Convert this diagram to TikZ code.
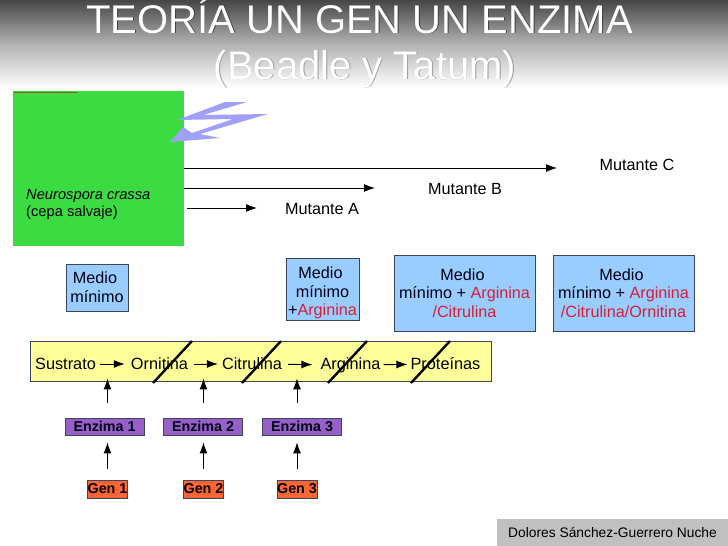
\documentclass[tikz,border=0pt]{standalone}
\usepackage{fontspec}
\setmainfont{Liberation Sans}
\usepackage{xcolor}
\definecolor{CultivoGreen}{RGB}{58,220,66}
\definecolor{RayoViolet}{RGB}{160,160,250}
\definecolor{MedioBlue}{RGB}{153,204,255}
\definecolor{RutaYellow}{RGB}{255,255,153}
\definecolor{EnzimaPurple}{RGB}{150,96,200}
\definecolor{GenOrange}{RGB}{255,102,51}
\definecolor{SlateEdge}{RGB}{60,70,90}
\definecolor{AminoRed}{RGB}{215,30,50}
\definecolor{PieGray}{RGB}{192,192,192}
\definecolor{BandaGray}{RGB}{70,70,70}
\definecolor{CepaBrown}{RGB}{150,90,10}
\usetikzlibrary{arrows.meta}
\begin{document}
\begin{tikzpicture}[
    x=1pt, y=-1pt,
    titulo/.style={
        font=\fontsize{40}{47}\selectfont, text=white,
        anchor=base, inner sep=0pt
    },
    medio/.style={
        draw=SlateEdge, fill=MedioBlue, thick,
        font=\fontsize{16.2}{18.7}\selectfont,
        align=center, inner sep=0pt, text=black!92!blue
    },
    enzima/.style={
        draw=SlateEdge, fill=EnzimaPurple, thick,
        minimum width=79pt, minimum height=17pt, inner sep=0pt,
        font=\fontsize{14.3}{16}\selectfont\bfseries, text=black!92!blue
    },
    gen/.style={
        draw=SlateEdge, fill=GenOrange, thick,
        minimum width=40pt, minimum height=18pt, inner sep=0pt,
        font=\fontsize{14.3}{16}\selectfont\bfseries
    },
    etapa/.style={
        font=\fontsize{16.3}{18}\selectfont, inner sep=3pt
    },
    mutante/.style={
        font=\fontsize{16.2}{18}\selectfont, inner sep=0pt
    },
    flecha/.style={
        -{Latex[length=11pt,width=8pt]}, line width=0.9pt, draw=black
    },
    corte/.style={
        line width=2.4pt, draw=black
    }
]

% ====== FONDO Y TITULO ======
\useasboundingbox (0,0) rectangle (728,546);
\shade[top color=BandaGray, bottom color=white, middle color=black!30] (0,0) rectangle (728,88);
\node[titulo, text=black!75] (sombra1) at (360.2,33.7) {TEORÍA UN GEN UN ENZIMA};
\node[titulo, text=black!40] (sombra2) at (365.7,79.7) {(Beadle y Tatum)};
\node[titulo] (titulo1) at (359.5,33) {TEORÍA UN GEN UN ENZIMA};
\node[titulo] (titulo2) at (365,79) {(Beadle y Tatum)};

% ====== CULTIVO ======
\node[fill=CultivoGreen, minimum width=171pt, minimum height=155pt, inner sep=0pt] (cepa) at (98.5,168.5) {};
\draw[CepaBrown, line width=1pt] (14,92) -- (78,92);
\fill[RayoViolet] (247,102) -- (225,102) -- (177,120) -- (233,119) -- (192,133) -- (183,127) -- (170,142)
    -- (220,138) -- (200,134) -- (268,114) -- (203,115) -- cycle;
\node[align=left, inner sep=0pt, font=\fontsize{14.7}{17}\selectfont, anchor=west] (cepatxt) at (26,204.5)
    {\textit{Neurospora crassa}\\(cepa salvaje)};

% ====== MUTANTES ======
\node[mutante] (mutC) at (637,165) {Mutante C};
\node[mutante] (mutB) at (465,189) {Mutante B};
\node[mutante] (mutA) at (322,209) {Mutante A};
\coordinate (finC) at (557,168);
\coordinate (finB) at (375,188);
\coordinate (finA) at (257,208);
\draw[flecha] (cepa.east |- finC) -- (finC);
\draw[flecha] (cepa.east |- finB) -- (finB);
\draw[flecha] (cepa.east |- finA) ++(3,0) -- (finA);

% ====== MEDIOS ======
\node[medio, minimum width=62pt, minimum height=47pt] (medio1) at (97,287.5) {\hspace*{-4pt}Medio\\mínimo};
\node[medio, minimum width=73pt, minimum height=62pt] (medio2) at (322.5,289) {\rule{0pt}{19.6pt}\hspace*{-4pt}Medio\\mínimo\\+\textcolor{AminoRed}{Arginina}};
\node[medio, minimum width=141pt, minimum height=76pt] (medio3) at (464.5,293) {\hspace*{-4pt}Medio\\mínimo + \textcolor{AminoRed}{Arginina}\\\textcolor{AminoRed}{/Citrulina}};
\node[medio, minimum width=141pt, minimum height=76pt] (medio4) at (623.5,293) {\hspace*{-4pt}Medio\\mínimo + \textcolor{AminoRed}{Arginina}\\\textcolor{AminoRed}{/Citrulina/Ornitina}};

% ====== RUTA ======
\node[draw=SlateEdge, thick, fill=RutaYellow, minimum width=461pt, minimum height=40pt, inner sep=0pt] (ruta) at (260.5,361) {};
\node[etapa] (sustrato) at (65.5,364) {Sustrato};
\node[etapa] (ornitina) at (159.5,364) {Ornitina};
\node[etapa] (citrulina) at (252,364) {Citrulina};
\node[etapa] (arginina) at (350.5,365) {Arginina};
\node[etapa] (proteinas) at (445.5,364) {Proteínas};
\draw[flecha, shorten <=1pt, shorten >=3pt] (sustrato) -- (ornitina);
\draw[flecha, shorten <=3pt, shorten >=1pt] (ornitina) -- (citrulina);
\draw[flecha, shorten <=3pt, shorten >=5pt] (citrulina) -- (arginina);
\draw[flecha] (arginina) -- (proteinas);
\foreach \x in {153,242,328,411}
    \draw[corte] (\x,383) -- ++(39,-42);

% ====== ENZIMAS Y GENES ======
\node[enzima] (enz1) at (104.5,426.5) {Enzima 1};
\node[enzima] (enz2) at (203,426.5) {Enzima 2};
\node[enzima] (enz3) at (302,426.5) {Enzima 3};
\node[gen] (gen1) at (107.5,489) {Gen 1};
\node[gen] (gen2) at (203.5,489) {Gen 2};
\node[gen] (gen3) at (297,489) {Gen 3};
\foreach \n in {1,2,3} {
    \draw[flecha, shorten <=11pt, shorten >=7pt] (gen\n.north) -- (gen\n.north |- enz\n.south);
    \draw[flecha, shorten <=15pt, shorten >=-3pt] (gen\n.north |- enz\n.north) -- (gen\n.north |- ruta.south);
}

% ====== PIE ======
\node[fill=PieGray, minimum width=231pt, minimum height=27pt, inner sep=0pt, font=\fontsize{13.8}{16}\selectfont] (pie) at (612.5,532.5) {Dolores Sánchez-Guerrero Nuche};

\end{tikzpicture}
\end{document}
